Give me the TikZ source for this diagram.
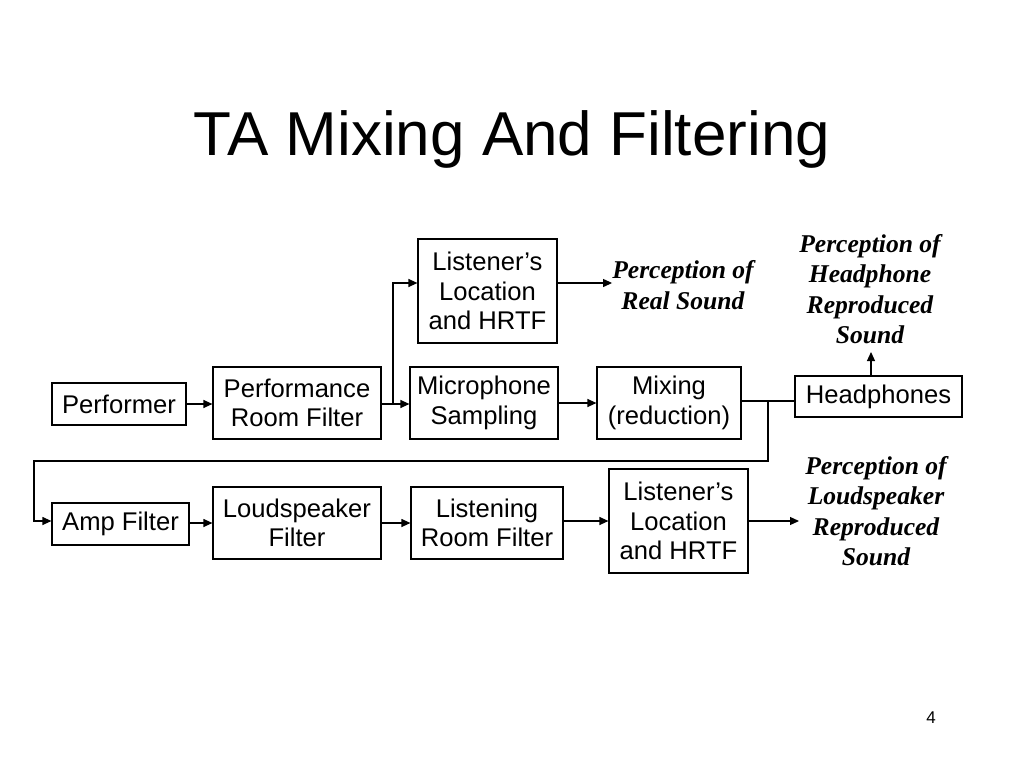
\documentclass[tikz,border=0pt]{standalone}
\usepackage{fontspec}
\setmainfont{Liberation Sans}
\newfontfamily\timesbi{Liberation Serif}
\usetikzlibrary{arrows.meta}
\begin{document}
\begin{tikzpicture}[x=1pt,y=-1pt,
  box/.style={draw, line width=1.2pt, align=center, inner sep=0pt,
    font=\fontsize{25.6}{29.5}\selectfont},
  percept/.style={align=center, inner sep=0pt,
    font=\timesbi\bfseries\itshape\fontsize{25.6}{30.5}\selectfont},
  conn/.style={line width=1.2pt},
  arr/.style={line width=1.2pt, -{Triangle[length=9pt,width=8pt]}}]
\useasboundingbox (0,0) rectangle (1024,768);
\node[anchor=base, font=\fontsize{62}{70}\selectfont] (title) at (512,155) {TA Mixing And Filtering};
\node[anchor=base, font=\fontsize{17}{20}\selectfont] (pg) at (931,723) {4};

\node[box, minimum width=134, minimum height=42] (perf) at (119,404) {Performer};
\node[box, minimum width=168, minimum height=72] (prf) at (297,403) {Performance\\Room Filter};
\node[box, minimum width=148, minimum height=72] (mic) at (484,403) {Microphone\\Sampling};
\node[box, minimum width=144, minimum height=72] (mix) at (669,403) {Mixing\\(reduction)};
\node[box, minimum width=167, minimum height=41] (head) at (878.5,396.5) {Headphones};
\node[box, minimum width=139, minimum height=104] (lis1) at (487.5,291) {Listener’s\\Location\\and HRTF};
\node[box, minimum width=137, minimum height=42] (amp) at (120.5,524) {Amp Filter};
\node[box, minimum width=168, minimum height=72] (ls) at (297,523) {Loudspeaker\\Filter};
\node[box, minimum width=152, minimum height=72] (lr) at (487,523) {Listening\\Room Filter};
\node[box, minimum width=139, minimum height=104] (lis2) at (678.5,521) {Listener’s\\Location\\and HRTF};

\node[percept] (preal) at (683,285) {Perception of\\Real Sound};
\node[percept] (phead) at (870,289) {Perception of\\Headphone\\Reproduced\\Sound};
\node[percept] (plsp) at (876,511) {Perception of\\Loudspeaker\\Reproduced\\Sound};

\coordinate (b1) at (393,404);
\coordinate (b2) at (768,401);
\coordinate (c1) at (768,461);
\coordinate (c2) at (34,461);
\coordinate (c3) at (34,521);

\draw[arr] (perf.east) -- (prf.west |- perf.east);
\draw[arr] (prf.east |- b1) -- (mic.west |- b1);
\draw[arr] (b1) -- (b1 |- 0,283) -- (lis1.west |- 0,283);
\draw[arr] (lis1.east |- 0,283) -- (preal.west |- 0,283);
\draw[arr] (mic.east) -- (mix.west);
\draw[conn] (mix.east |- b2) -- (head.west |- b2);
\draw[arr] (b2) -- (c1) -- (c2) -- (c3) -- (amp.west |- c3);
\draw[arr] (head.north -| 871,0) -- (871,352);
\draw[arr] (amp.east |- ls.west) -- (ls.west);
\draw[arr] (ls.east) -- (lr.west);
\draw[arr] (lr.east |- lis2.west) -- (lis2.west);
\draw[arr] (lis2.east) -- (799,521);
\end{tikzpicture}
\end{document}
